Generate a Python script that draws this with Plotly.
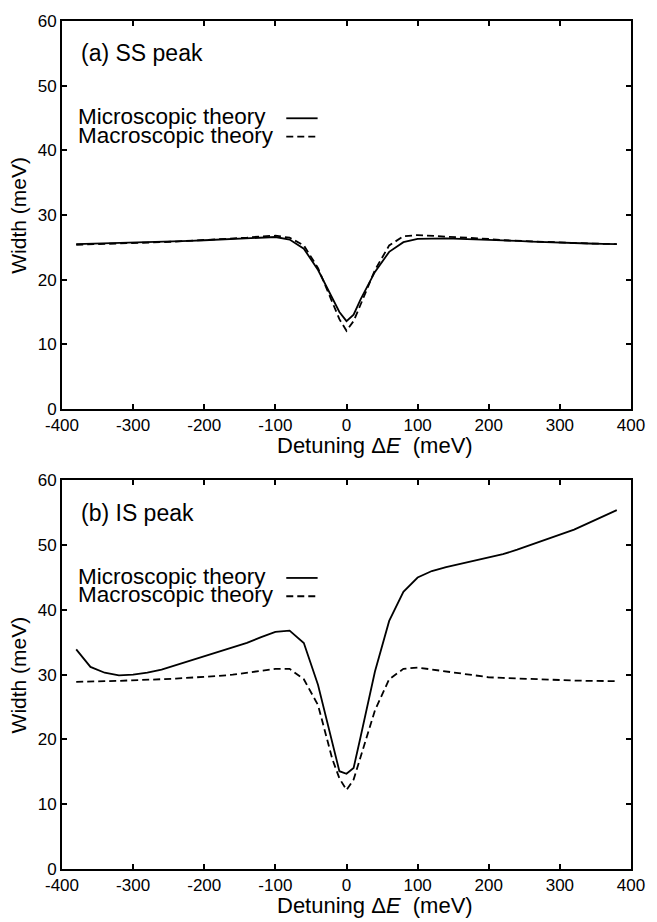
import plotly.graph_objects as go

# ---------------- data ----------------
detuning = [-380, -360, -340, -320, -300, -280, -260, -240, -220, -200, -180, -160,
            -140, -120, -100, -80, -60, -40, -20, -10, 0, 10, 20, 40, 60, 80, 100,
            120, 140, 160, 180, 200, 220, 240, 260, 280, 300, 320, 340, 360, 380]

ss_micro = [25.5, 25.55, 25.6, 25.65, 25.7, 25.75, 25.8, 25.9, 26.0, 26.1, 26.2, 26.3,
            26.5, 26.6, 26.6, 26.2, 24.8, 21.5, 17.3, 15.0, 13.6, 14.6, 17.0, 21.2, 24.3,
            25.8, 26.3, 26.4, 26.4, 26.3, 26.25, 26.2, 26.1, 26.0, 25.9, 25.8, 25.75,
            25.7, 25.6, 25.55, 25.5]

ss_macro = [25.4, 25.45, 25.5, 25.6, 25.65, 25.7, 25.8, 25.9, 26.0, 26.1, 26.2, 26.35,
            26.5, 26.7, 26.8, 26.5, 25.3, 21.8, 16.5, 13.9, 12.1, 13.6, 16.2, 21.5, 25.3,
            26.7, 26.9, 26.8, 26.7, 26.5, 26.4, 26.3, 26.1, 26.0, 25.9, 25.8, 25.7,
            25.65, 25.6, 25.55, 25.5]

is_micro = [33.9, 31.2, 30.3, 29.9, 30.0, 30.3, 30.8, 31.5, 32.2, 32.9, 33.5, 34.2,
            34.9, 35.8, 36.6, 36.8, 34.9, 28.4, 19.6, 15.1, 14.7, 15.6, 20.5, 30.5, 38.3,
            42.8, 45.0, 46.0, 46.6, 47.1, 47.6, 48.1, 48.6, 49.3, 50.1, 50.9, 51.6,
            52.4, 53.4, 54.4, 55.4]

is_macro = [28.9, 28.9, 29.0, 29.05, 29.1, 29.2, 29.3, 29.4, 29.5, 29.6, 29.8, 30.0,
            30.3, 30.6, 30.9, 30.9, 29.3, 25.3, 17.0, 14.0, 12.2, 13.8, 17.5, 24.5, 29.3,
            30.9, 31.1, 30.8, 30.4, 30.1, 29.8, 29.6, 29.5, 29.4, 29.3, 29.2, 29.15,
            29.1, 29.05, 29.0, 29.0]

x_ticks = [-400, -300, -200, -100, 0, 100, 200, 300, 400]
x_tick_labels = ["-400", "-300", "-200", "-100", "0", "100", "200", "300", "400"]
y_ticks = [0, 10, 20, 30, 40, 50, 60]
y_tick_labels = ["0", "10", "20", "30", "40", "50", "60"]
panel_labels = ["(a) SS peak", "(b) IS peak"]
series_names = ["Microscopic theory", "Macroscopic theory"]

# ---------------- layout geometry (pixels) ----------------
W, H = 657, 922
ML, MR, MT, MB = 62, 14, 13, 53
PW = W - ML - MR
PH = H - MT - MB


def py(p):  # pixel y -> paper y
    return (H - MB - p) / PH


def px(p):  # pixel x -> paper x
    return (p - ML) / PW


FONT = "Liberation Sans, Arial, Helvetica, sans-serif"
solid = dict(color="black", width=1.8)
dashed = dict(color="black", width=1.8, dash="7px,4px")

fig = go.Figure()
fig.add_trace(go.Scatter(x=detuning, y=ss_micro, mode="lines", line=solid,
                         name=series_names[0], xaxis="x", yaxis="y", showlegend=False))
fig.add_trace(go.Scatter(x=detuning, y=ss_macro, mode="lines", line=dashed,
                         name=series_names[1], xaxis="x", yaxis="y", showlegend=False))
fig.add_trace(go.Scatter(x=detuning, y=is_micro, mode="lines", line=solid,
                         name=series_names[0], xaxis="x2", yaxis="y2", showlegend=False))
fig.add_trace(go.Scatter(x=detuning, y=is_macro, mode="lines", line=dashed,
                         name=series_names[1], xaxis="x2", yaxis="y2", showlegend=False))

axis_common = dict(showline=True, linecolor="black", linewidth=2, mirror="allticks",
                   ticks="inside", ticklen=5, tickwidth=1.5, tickcolor="black",
                   showgrid=False, zeroline=False, ticklabeloverflow="allow",
                   tickfont=dict(family=FONT, size=17, color="black"))

top_dom = [py(404.7), 1.0]
bot_dom = [0.0, py(476.7)]

xa = dict(range=[-400, 400], tickvals=x_ticks, ticktext=x_tick_labels, domain=[0, 1], **axis_common)
ya = dict(range=[0, 60], tickvals=y_ticks, ticktext=y_tick_labels, **axis_common)

fig.update_layout(
    width=W, height=H,
    margin=dict(l=ML, r=MR, t=MT, b=MB),
    paper_bgcolor="white", plot_bgcolor="white",
    showlegend=False,
    xaxis=dict(anchor="y", **xa),
    yaxis=dict(domain=top_dom, anchor="x", **ya),
    xaxis2=dict(anchor="y2", **xa),
    yaxis2=dict(domain=bot_dom, anchor="x2", **ya),
)

ann = []
shapes = []
for i, top in enumerate([12.7, 476.7]):
    bottom = top + 392
    # panel label
    ann.append(dict(text=panel_labels[i], x=px(80), y=py(top + 33), xref="paper", yref="paper",
                    xanchor="left", yanchor="middle", showarrow=False, borderpad=0,
                    font=dict(family=FONT, size=23, color="black")))
    # legend text
    for j, name in enumerate(series_names):
        ann.append(dict(text=name, x=px(77), y=py(top + 97 + 18.5 * j), xref="paper", yref="paper",
                        xanchor="left", yanchor="middle", showarrow=False, borderpad=0,
                        font=dict(family=FONT, size=22.5, color="black")))
        shapes.append(dict(type="line", xref="paper", yref="paper",
                           x0=px(291), x1=px(323),
                           y0=py(top + 98.5 + 18.5 * j), y1=py(top + 98.5 + 18.5 * j),
                           line=solid if j == 0 else dashed))
    # x title
    ann.append(dict(text="Detuning Δ<i>E</i>\u00a0 (meV)", x=px(382), y=py(bottom + 37),
                    xref="paper", yref="paper", xanchor="center", yanchor="middle",
                    showarrow=False, borderpad=0, font=dict(family=FONT, size=22, color="black")))
    # y title
    ann.append(dict(text="Width (meV)", x=px(18), y=py(top + 196), xref="paper", yref="paper",
                    xanchor="center", yanchor="middle", textangle=-90, showarrow=False,
                    borderpad=0, font=dict(family=FONT, size=21, color="black")))

fig.update_layout(annotations=ann, shapes=shapes)
fig.write_html("out.html", config={"displayModeBar": False},
               post_script="document.body.style.margin='0';document.body.style.overflow='hidden';")
